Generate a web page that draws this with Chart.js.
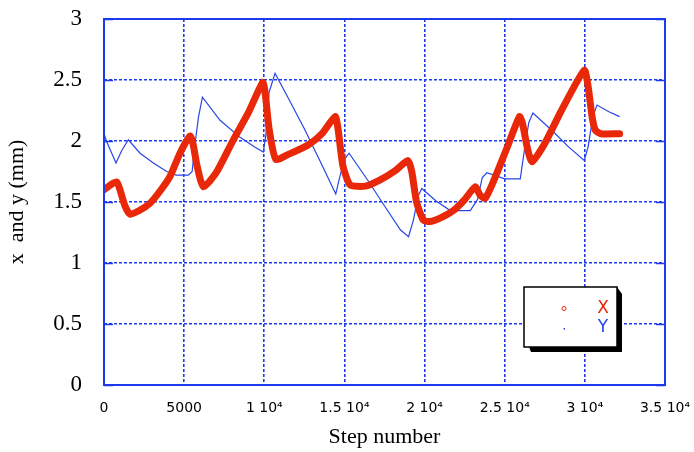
<!DOCTYPE html>
<html>
<head>
<meta charset="utf-8">
<script src="https://cdn.jsdelivr.net/npm/chart.js@4/dist/chart.umd.min.js"></script>
<style>
  html, body { margin: 0; padding: 0; background: #fff; }
  #wrap { width: 694px; height: 452px; position: relative; }
</style>
</head>
<body>
<div id="wrap"><canvas id="c" width="694" height="452"></canvas></div>
<script>
// Step numbers and positions of the X trace (mm)
const xSteps = [0, 400, 790, 1000, 1300, 1620, 2200, 2870, 3500, 4120, 4740, 5370, 5550, 5800, 6200, 7000, 8070, 9000, 9900, 10050, 10300, 10720, 11500, 12760, 13600, 14420, 14600, 14900, 15360, 16290, 17200, 18200, 18960, 19200, 19500, 19930, 20350, 21000, 21800, 22500, 23160, 23450, 23780, 24300, 25100, 25920, 26100, 26400, 26700, 27500, 28500, 29960, 30200, 30450, 30650, 31000, 32170];
const xValues = [1.60, 1.64, 1.665, 1.60, 1.47, 1.40, 1.43, 1.49, 1.59, 1.71, 1.90, 2.04, 1.98, 1.80, 1.625, 1.74, 2.01, 2.23, 2.48, 2.40, 2.10, 1.85, 1.89, 1.97, 2.06, 2.20, 2.10, 1.80, 1.64, 1.63, 1.68, 1.76, 1.84, 1.75, 1.50, 1.35, 1.34, 1.37, 1.43, 1.52, 1.625, 1.56, 1.53, 1.67, 1.93, 2.20, 2.15, 1.95, 1.83, 1.98, 2.24, 2.58, 2.45, 2.20, 2.09, 2.06, 2.06];

// Step numbers and positions of the Y trace (mm)
const ySteps = [0, 150, 750, 1100, 1520, 2250, 3080, 3910, 4500, 5260, 5500, 5650, 5900, 6140, 7240, 8490, 9400, 9940, 10100, 10300, 10670, 11500, 12500, 13500, 14460, 14700, 15000, 15290, 16500, 17390, 18500, 19000, 19300, 19600, 19830, 20700, 21600, 22850, 23300, 23600, 23890, 25000, 25970, 26200, 26500, 26760, 28000, 29000, 29960, 30200, 30500, 30760, 31500, 32170];
const yValues = [2.06, 2.00, 1.82, 1.92, 2.01, 1.90, 1.82, 1.75, 1.72, 1.72, 1.75, 1.95, 2.20, 2.36, 2.17, 2.03, 1.95, 1.91, 2.05, 2.40, 2.555, 2.35, 2.10, 1.83, 1.565, 1.70, 1.85, 1.90, 1.67, 1.49, 1.27, 1.215, 1.35, 1.55, 1.61, 1.51, 1.43, 1.43, 1.52, 1.70, 1.74, 1.69, 1.69, 1.90, 2.15, 2.23, 2.08, 1.95, 1.84, 1.95, 2.20, 2.295, 2.24, 2.20];

// Axis tick labels
const stepTickLabels = ['0', '5000', '1 10\u2074', '1.5 10\u2074', '2 10\u2074', '2.5 10\u2074', '3 10\u2074', '3.5 10\u2074'];
const mmTickLabels = ['0', '0.5', '1', '1.5', '2', '2.5', '3'];

const seriesNames = ['X', 'Y'];

const RED = 'rgb(232,40,8)';
const BLUE = 'rgb(40,70,232)';
const GRID = 'rgb(28,58,238)';

const pairs = (xs, ys) => xs.map((s, i) => ({ x: s, y: ys[i] }));

// fixed axis box size; label overhang is left to the layout padding
const fixBox = (prop, size) => (s) => {
  s[prop] = size;
  s.paddingTop = s.paddingBottom = s.paddingLeft = s.paddingRight = 0;
};

// Solid frame, inward tick marks and the shadowed key box
const framePlugin = {
  id: 'frame',
  afterDraw(chart) {
    const { ctx, chartArea: a, scales } = chart;
    ctx.save();
    ctx.strokeStyle = GRID;
    ctx.lineWidth = 2;
    ctx.setLineDash([]);
    ctx.strokeRect(a.left, a.top, a.right - a.left, a.bottom - a.top);
    ctx.lineWidth = 1.5;
    for (let v = 0; v <= 3; v += 0.5) {
      const py = Math.round(scales.y.getPixelForValue(v)) + 0.5;
      ctx.beginPath();
      ctx.moveTo(a.left, py); ctx.lineTo(a.left + 9, py);
      ctx.moveTo(a.right, py); ctx.lineTo(a.right - 9, py);
      ctx.stroke();
    }

    // key box
    const bx = 524, by = 287, bw = 93, bh = 60, sh = 5;
    ctx.fillStyle = '#000';
    ctx.beginPath();
    ctx.moveTo(bx + sh, by + bh);
    ctx.lineTo(bx + sh + 2, by + bh + sh);
    ctx.lineTo(bx + bw + sh, by + bh + sh);
    ctx.lineTo(bx + bw + sh, by + sh + 2);
    ctx.lineTo(bx + bw, by);
    ctx.lineTo(bx + bw, by + bh);
    ctx.closePath();
    ctx.fill();
    ctx.fillStyle = '#fff';
    ctx.fillRect(bx, by, bw, bh);
    ctx.strokeStyle = '#000';
    ctx.lineWidth = 1.5;
    ctx.strokeRect(bx, by, bw, bh);

    ctx.strokeStyle = RED;
    ctx.lineWidth = 1;
    ctx.beginPath();
    ctx.arc(564, 308.5, 2, 0, Math.PI * 2);
    ctx.stroke();
    ctx.fillStyle = BLUE;
    ctx.fillRect(563.5, 328, 1.5, 1.5);

    ctx.font = '17px "DejaVu Sans"';
    ctx.textAlign = 'center';
    ctx.textBaseline = 'middle';
    ctx.fillStyle = RED;
    ctx.fillText(seriesNames[0], 603, 309);
    ctx.fillStyle = BLUE;
    ctx.fillText(seriesNames[1], 603, 328);
    ctx.restore();
  }
};

new Chart(document.getElementById('c'), {
  type: 'line',
  data: {
    datasets: [
      {
        label: seriesNames[1],
        data: pairs(ySteps, yValues),
        borderColor: BLUE,
        borderWidth: 1.2,
        pointRadius: 0,
        tension: 0,
        order: 2
      },
      {
        label: seriesNames[0],
        data: pairs(xSteps, xValues),
        borderColor: RED,
        borderWidth: 7,
        borderCapStyle: 'round',
        borderJoinStyle: 'round',
        pointRadius: 0,
        tension: 0.2,
        order: 1
      }
    ]
  },
  options: {
    responsive: false,
    animation: false,
    devicePixelRatio: 1,
    layout: { padding: { top: 19, right: 29, left: 0, bottom: 0 } },
    plugins: { legend: { display: false }, tooltip: { enabled: false } },
    scales: {
      x: {
        type: 'linear',
        min: 0, max: 35000,
        afterFit: fixBox('height', 67),
        ticks: {
          stepSize: 5000,
          autoSkip: false,
          maxRotation: 0,
          padding: 15,
          color: '#000',
          font: { family: '"DejaVu Sans"', size: 14 },
          callback: (v) => stepTickLabels[Math.round(v / 5000)]
        },
        grid: { color: GRID, lineWidth: 1.6, drawTicks: false },
        border: { display: false, dash: [3, 2] },
        title: {
          display: true,
          text: 'Step number',
          color: '#000',
          font: { family: '"Liberation Serif"', size: 22 },
          padding: { top: 0, bottom: 2 }
        }
      },
      y: {
        min: 0, max: 3,
        afterFit: fixBox('width', 104),
        ticks: {
          stepSize: 0.5,
          padding: 22,
          color: '#000',
          font: { family: '"Liberation Serif"', size: 23 },
          callback: (v) => mmTickLabels[Math.round(v * 2)]
        },
        grid: { color: GRID, lineWidth: 1.6, drawTicks: false },
        border: { display: false, dash: [3, 2] },
        title: {
          display: true,
          text: 'x  and y (mm)',
          color: '#000',
          font: { family: '"Liberation Serif"', size: 22 },
          padding: { top: 4, bottom: 0 }
        }
      }
    }
  },
  plugins: [framePlugin]
});
</script>
</body>
</html>
